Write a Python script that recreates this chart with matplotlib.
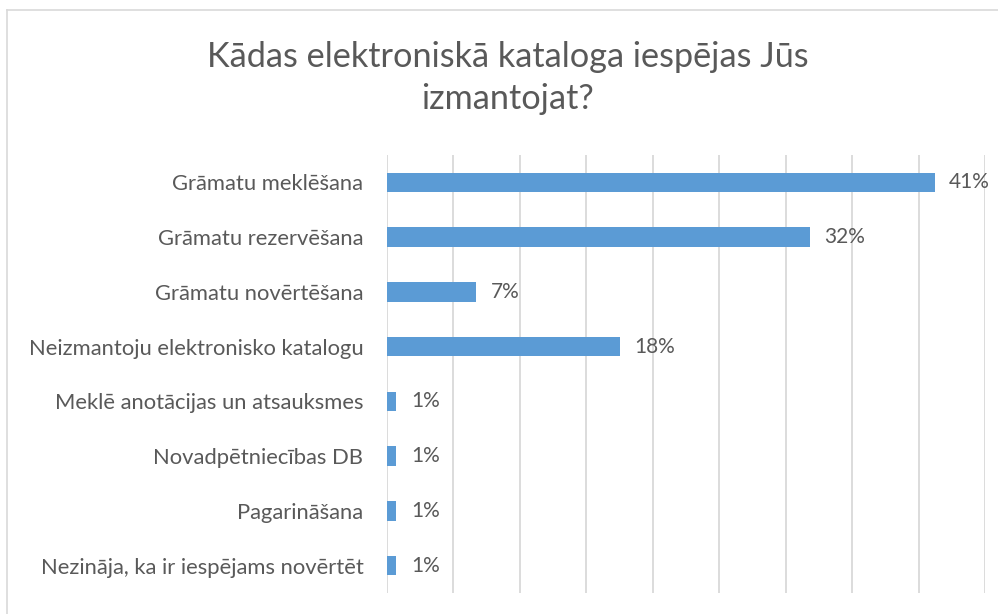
import matplotlib
matplotlib.use("Agg")
import matplotlib.pyplot as plt
from matplotlib.lines import Line2D

# data (percent)
categories = [
    "Grāmatu meklēšana",
    "Grāmatu rezervēšana",
    "Grāmatu novērtēšana",
    "Neizmantoju elektronisko katalogu",
    "Meklē anotācijas un atsauksmes",
    "Novadpētniecības DB",
    "Pagarināšana",
    "Nezināja, ka ir iespējams novērtēt",
]
values = [41.2, 31.8, 6.7, 17.5, 0.7, 0.7, 0.7, 0.7]
labels = ["41%", "32%", "7%", "18%", "1%", "1%", "1%", "1%"]
xticks = [0, 5, 10, 15, 20, 25, 30, 35, 40, 45]

title = "Kādas elektroniskā kataloga iespējas Jūs\nizmantojat?"

plt.rcParams['font.family'] = ['Lato', 'DejaVu Sans']
text_col = "#595959"

W, H = 998, 614
fig = plt.figure(figsize=(W / 100, H / 100), dpi=100)
ax = fig.add_axes([387 / W, 1 - 593 / H, (985 - 387) / W, (593 - 155) / H])

y = list(range(len(categories)))
ax.barh(y, values, height=0.36, color="#5B9BD5", zorder=3)
for yi, v, lab in zip(y, values, labels):
    ax.text(v + 1.1, yi, lab, va="center", ha="left", fontsize=15, color=text_col)

ax.set_xlim(0, 45)
ax.set_ylim(len(categories) - 0.5, -0.5)
ax.set_xticks(xticks)
ax.xaxis.grid(True, color="#D9D9D9", linewidth=1.3, zorder=0)
ax.tick_params(axis="x", length=0, labelbottom=False)
ax.tick_params(axis="y", length=0, pad=17)
ax.set_yticks(y)
ax.set_yticklabels(categories, fontsize=15.8, color=text_col)
for s in ax.spines.values():
    s.set_visible(False)

fig.text(508 / W, 1 - 78 / H, title, ha="center", va="center",
         fontsize=24.7, color=text_col, linespacing=1.4)

# chart border (left and top edges visible)
fig.add_artist(Line2D([7 / W, 7 / W], [0, 1 - 10 / H], transform=fig.transFigure,
                      color="#D9D9D9", linewidth=1.2))
fig.add_artist(Line2D([7 / W, 1], [1 - 10 / H, 1 - 10 / H], transform=fig.transFigure,
                      color="#D9D9D9", linewidth=1.2))

fig.savefig("out.png", dpi=100)
